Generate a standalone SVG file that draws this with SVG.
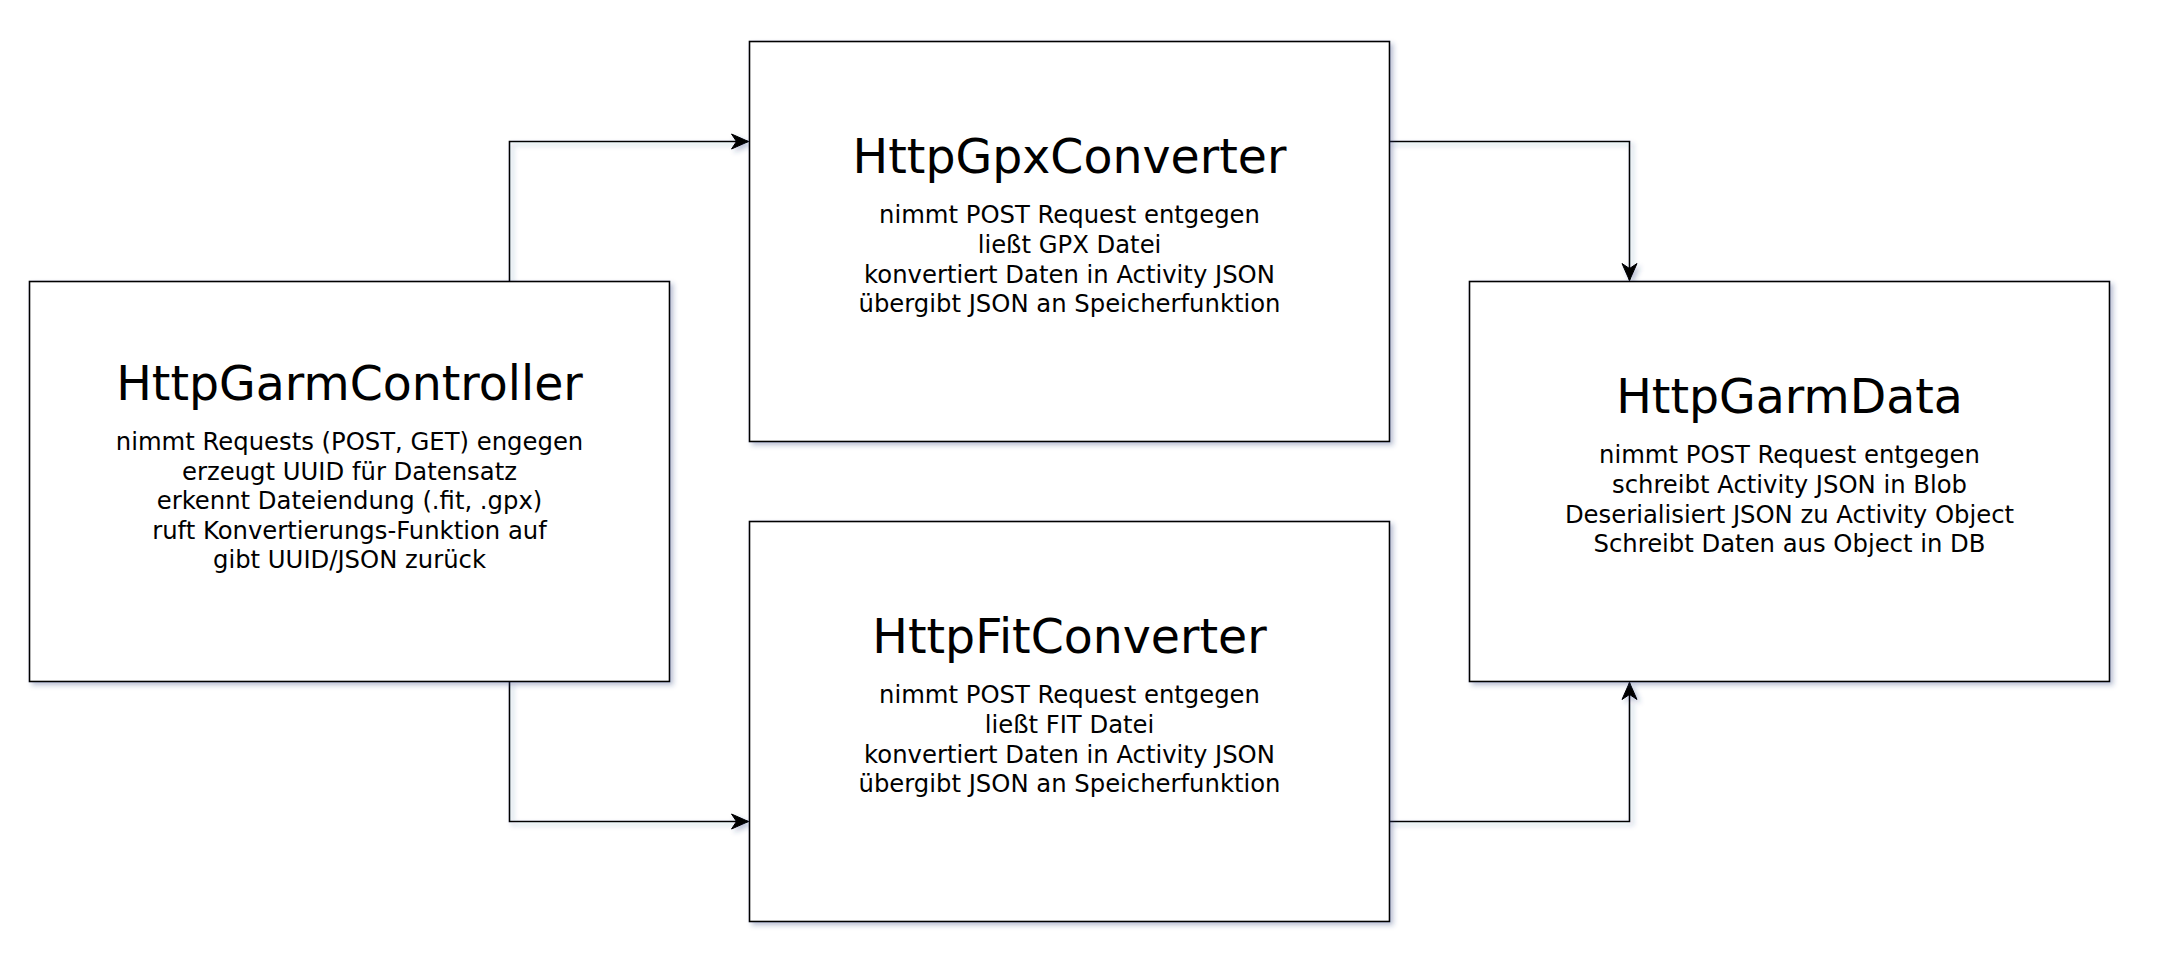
<svg xmlns="http://www.w3.org/2000/svg" width="2157" height="977" viewBox="0 0 2157 977">
  <defs>
    <filter id="shadow" x="-10%" y="-10%" width="130%" height="130%">
      <feDropShadow dx="3" dy="3" stdDeviation="2.5" flood-color="#2a3f7a" flood-opacity="0.32"/>
    </filter>
    <marker id="arrow" viewBox="-18 -9 19 18" refX="0" refY="0" markerWidth="19" markerHeight="18" markerUnits="userSpaceOnUse" orient="auto">
      <path d="M0,0 L-17,-7.5 L-12,0 L-17,7.5 Z" fill="#000000" stroke="#000000" stroke-width="1" stroke-linejoin="miter"/>
    </marker>
  </defs>
  <style>
    .box { fill: #ffffff; stroke: #000000; stroke-width: 1.6; }
    .edge { fill: none; stroke: #000000; stroke-width: 1.6; marker-end: url(#arrow); }
    .title { font-family: "DejaVu Sans", Verdana, sans-serif; font-size: 47.4px; fill: #000000; text-anchor: middle; }
    .body { font-family: "DejaVu Sans", Verdana, sans-serif; font-size: 24.3px; fill: #000000; text-anchor: middle; }
  </style>
  <rect width="2157" height="977" fill="#ffffff"/>

  <g id="connectors" filter="url(#shadow)">
    <path class="edge" d="M509.5,281.5 L509.5,141.5 L748.5,141.5"/>
    <path class="edge" d="M509.5,681.5 L509.5,821.5 L748.5,821.5"/>
    <path class="edge" d="M1389.5,141.5 L1629.5,141.5 L1629.5,280.5"/>
    <path class="edge" d="M1389.5,821.5 L1629.5,821.5 L1629.5,682.5"/>
  </g>

  <g id="HttpGarmController">
    <rect class="box" x="29.5" y="281.5" width="640" height="400" filter="url(#shadow)"/>
    <text class="title" x="349.5" y="400">HttpGarmController</text>
    <text class="body" x="349.5" y="450">nimmt Requests (POST, GET) engegen</text>
    <text class="body" x="349.5" y="479.5">erzeugt UUID für Datensatz</text>
    <text class="body" x="349.5" y="509">erkennt Dateiendung (.fit, .gpx)</text>
    <text class="body" x="349.5" y="538.5">ruft Konvertierungs-Funktion auf</text>
    <text class="body" x="349.5" y="568">gibt UUID/JSON zurück</text>
  </g>

  <g id="HttpGpxConverter">
    <rect class="box" x="749.5" y="41.5" width="640" height="400" filter="url(#shadow)"/>
    <text class="title" x="1069.5" y="173">HttpGpxConverter</text>
    <text class="body" x="1069.5" y="223.3">nimmt POST Request entgegen</text>
    <text class="body" x="1069.5" y="252.9">ließt GPX Datei</text>
    <text class="body" x="1069.5" y="282.5">konvertiert Daten in Activity JSON</text>
    <text class="body" x="1069.5" y="312.1">übergibt JSON an Speicherfunktion</text>
  </g>

  <g id="HttpFitConverter">
    <rect class="box" x="749.5" y="521.5" width="640" height="400" filter="url(#shadow)"/>
    <text class="title" x="1069.5" y="653">HttpFitConverter</text>
    <text class="body" x="1069.5" y="703.3">nimmt POST Request entgegen</text>
    <text class="body" x="1069.5" y="732.9">ließt FIT Datei</text>
    <text class="body" x="1069.5" y="762.5">konvertiert Daten in Activity JSON</text>
    <text class="body" x="1069.5" y="792.1">übergibt JSON an Speicherfunktion</text>
  </g>

  <g id="HttpGarmData">
    <rect class="box" x="1469.5" y="281.5" width="640" height="400" filter="url(#shadow)"/>
    <text class="title" x="1789.5" y="413">HttpGarmData</text>
    <text class="body" x="1789.5" y="463.3">nimmt POST Request entgegen</text>
    <text class="body" x="1789.5" y="492.9">schreibt Activity JSON in Blob</text>
    <text class="body" x="1789.5" y="522.5">Deserialisiert JSON zu Activity Object</text>
    <text class="body" x="1789.5" y="552.1">Schreibt Daten aus Object in DB</text>
  </g>
</svg>
